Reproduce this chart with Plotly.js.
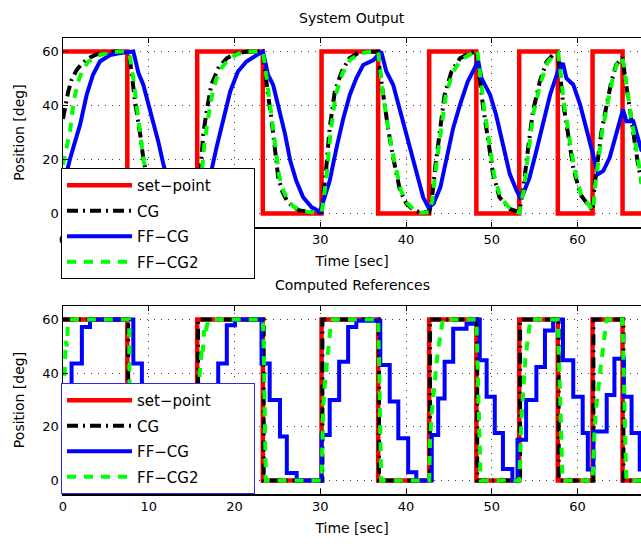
<!DOCTYPE html>
<html><head><meta charset="utf-8">
<script src="https://cdn.plot.ly/plotly-3.0.1.min.js"></script>
<style>html,body{margin:0;padding:0;overflow:hidden;background:#fff}#chart{width:641px;height:544px}</style>
</head><body><div id="chart"></div>
<script>
// ---------- data (time in sec, position in deg) ----------
const setTime  = [0, 7.5, 15.65, 23.3, 30.15, 36.75, 42.7, 48.2, 53.2, 57.7, 61.75, 65.25, 68];
const setValue = [60, 0, 60, 0, 60, 0, 60, 0, 60, 0, 60, 0, 0];

// System Output
const outCgTime = [0,0.3,0.6,1.0,1.6,2.2,2.95,3.9,5,6,7.5,7.8,8.0,8.4,9.0,9.4,9.9,10.5,11.2,12.2,13.5,15.65,15.9,16.1,16.35,16.75,17.3,18.1,19.1,20.2,21.5,23.3,23.5,23.9,24.3,24.7,25.1,25.6,26.1,26.8,27.6,28.5,29.5,30.15,30.3,30.7,31.1,31.7,32.5,33.4,34.6,36.75,36.9,37.3,37.9,38.5,39.3,40.05,40.8,41.6,42.7,43,43.4,44,44.5,45.3,46.3,47.4,48.2,48.6,49,49.6,50.15,50.9,52.1,53.2,53.65,54.2,54.8,55.6,56.4,57.1,57.7,57.9,58.3,58.9,59.5,60.3,61.4,61.75,62,62.4,62.8,63.4,63.95,64.5,65.1,65.25,65.5,65.9,66.5,67.05,67.5];
const outCgValue = [35,40,45,49.5,53.2,55.5,57.5,58.9,59.6,60,60,57,52,41.5,29.3,19.5,12,6.5,3,1,0.3,0,10,20,29.3,37.9,47.7,53.8,57.5,59.3,60,60,53.8,44,35.4,24.4,13.3,8,4.8,2.5,1.1,0.8,0.3,0.5,4.8,17,31.7,45.2,52.6,57.5,59.7,60,53.8,44,31.7,20.7,8.5,3.6,1.5,0.5,0.5,4.8,17,31.7,44,52.6,57.5,59.3,60,50.2,39,26.8,14.6,6,1.7,0.5,8.5,23.2,37.9,48.9,56.3,58.7,59.5,53.8,41.5,29.3,17,7.2,2.3,1,10.9,20.7,30.5,40.3,48.9,55,57.5,57.8,51.4,42.8,30.5,18.3,11];

const outFfTime = [0,0.43,0.8,1.2,2.0,2.76,3.5,4.3,5.5,6.5,7.5,8.2,8.5,8.8,9.36,9.9,10.5,11.1,11.7,12.3,12.9,13.6,14.4,15.65,16.2,16.7,17.3,17.9,18.7,19.5,20.4,21.4,22.6,23.3,23.6,23.9,24.5,25.3,25.9,26.5,27.2,28,29,29.5,29.95,30.5,31.1,31.9,32.7,33.45,34.2,35,36.2,37.1,37.4,37.7,38.5,39.1,39.9,40.6,41.2,42,42.6,43.2,44,44.7,45.5,46.3,47.2,48,48.4,48.8,49.8,50.5,51.3,52.1,52.9,53.3,53.65,54.4,55.2,56,56.8,57.7,58.3,58.7,59.5,60.3,61,61.8,62.4,63,63.75,64.5,65.3,65.7,66.5,67.25,67.5];
const outFfValue = [10,15.8,20,24.4,33,44,51.4,56.3,58.7,59.3,59.8,60,56,52,47.7,41.5,34.2,26.8,18.3,11,6,2.8,1,0.5,4,9.5,15.8,24.4,35.4,45.2,52.6,56.3,58.7,60,56,51.4,47.7,37.9,29.3,19.5,12.1,6,2.3,1.5,0.5,6,12.1,24.4,35.4,44,50.1,55,56.8,60,56,52.6,47.7,40.3,31.7,23.2,14.6,6,2.3,3.6,9.7,19.5,31.7,40.3,48.9,53.8,56.8,50.1,44,36.6,25.6,14.6,8.5,6,7.2,13.3,23.2,33,44,52.6,55.7,50.1,47.7,40.3,31.7,23.2,14.6,15.8,20.7,29.3,38.5,34.2,34.2,25.6,23];

const outFf2Time = [0,0.4,0.82,1.1,1.4,1.8,2.2,2.95,3.6,4.3,5.3,6.5,7.5,7.8,8.2,8.6,9.0,9.4,9.9,10.5,11.2,12.2,13.5,15.65,15.9,16.2,16.5,16.9,17.4,17.9,18.5,19.3,20.3,21.5,23.3,23.55,23.95,24.35,24.8,25.2,25.7,26.2,26.9,27.6,28.5,29.5,30.15,30.35,30.8,31.2,31.8,32.6,33.5,34.7,36.75,36.95,37.35,37.95,38.6,39.4,40.1,40.9,41.7,42.7,43.05,43.45,44.05,44.6,45.4,46.4,47.5,48.3,48.7,49.1,49.7,50.25,51,52.2,53.2,53.7,54.25,54.85,55.7,56.5,57.2,57.75,58,58.4,59,59.6,60.4,61.5,61.8,62.05,62.45,62.85,63.45,64,64.55,65.15,65.4,65.6,66,66.6,67.1,67.5];
const outFf2Value = [18,24,30.5,38,44,49,52.6,56.3,57.5,58.7,59.5,60,60,58,50,39,29.3,19.5,12.5,7,3.5,1.2,0.3,0,6,16,26,35,44,50,54,57,59,60,60,55,45,36,24,14,8.5,5,2.5,1.3,0.6,0.3,0.5,4,16,30,44,52,57,59.5,60,53,43,31,20,8.5,4,1.5,0.3,0.5,4.5,16,30,43,52,57,59,60.5,50,39,26.5,14.5,6,1.5,0.3,8,22,37,48.5,56,58.5,59.5,53,41,29,17,7,2,1,10,20.5,30,40,48.5,55,57.8,55,50,41,29,17.5,11];

// Computed References
const refCgTime  = [0, 7.6, 15.75, 23.4, 30.25, 36.85, 42.8, 48.3, 53.3, 57.8, 61.85, 65.35, 68];
const refCgValue = [60, 0, 60, 0, 60, 0, 60, 0, 60, 0, 60, 0, 0];

const refFfTime  = [0,1.0,2.2,3.15,8.2,9.2,10.2,11.2,12.2,16.1,17.1,18.1,19.1,20.05,23.15,24.1,25.3,26.1,27.25,30.15,31.1,32.2,33.25,34.2,37.0,38.1,39.1,40.25,41.2,43.0,43.75,44.5,45.5,47.05,47.8,48.6,49.4,50.35,51.3,52.4,53.0,54.0,55.2,56.2,57.15,58.3,59.5,60.6,61.2,61.85,63.4,64.3,65.4,66.3,67.25,68];
const refFfValue = [30,43.6,57.2,60,43.6,30,16.4,3,0,17,30,43.6,57.8,60,43.6,30,16.4,2.8,0,17,30,44.2,57.2,59.5,43,29.4,15.8,3.1,0,17,30.6,44.2,56.5,58.4,60,44.8,31.2,17.7,4.3,0,15.2,30,42.3,55.9,60,44.8,31.2,17.7,4.1,18.3,31.9,45.4,31.2,17.7,4.1,4.1];

const refFf2Time  = [0,0.1,0.25,0.3,0.45,0.55,0.75,7.5,7.7,7.75,7.85,7.9,15.7,15.75,15.9,16.0,16.2,16.3,16.45,16.6,16.8,17.1,23.3,23.4,23.5,23.55,23.65,30.15,30.2,30.35,30.5,30.65,30.75,30.9,31.05,31.2,31.45,36.75,36.85,37.0,37.1,42.7,42.8,43.0,43.2,43.4,43.6,43.8,44.0,44.3,48.2,48.35,48.5,48.6,48.7,53.2,53.3,53.45,53.6,53.75,53.9,54.1,54.3,54.5,57.7,57.85,58.0,58.15,58.25,61.75,61.85,62.0,62.2,62.4,62.6,62.8,63.0,63.2,63.4,65.25,65.4,65.5,65.6,65.7,68];
const refFf2Value = [20,38,45,52,50,57,60,60,60,40,20,0,0,25,38,44,50,48,56,54,58,60,60,50,30,15,0,0,15,28,35,40,45,50,52,57,60,60,45,25,0,0,15,25,33,38,45,50,55,60,60,45,25,10,0,0,12,22,30,38,45,50,55,60,60,45,25,10,0,0,10,20,28,35,40,45,50,55,60,60,45,25,10,0,0];

const seriesNames = ['set\u2212point', 'CG', 'FF\u2212CG', 'FF\u2212CG2'];
const xTicks = [0, 10, 20, 30, 40, 50, 60];
const yTicks = [0, 20, 40, 60];

// ---------- styling ----------
const FONT = 'DejaVu Sans';
const legendPad = '\u00a0'.repeat(8);
const styles = [
  {color: '#ff0000', width: 4.5, dash: 'solid'},
  {color: '#000000', width: 4, dash: '11px,5px,2px,5px'},
  {color: '#0000ff', width: 4, dash: 'solid'},
  {color: '#00ff00', width: 4, dash: '9px,8px'}
];

function mk(x, y, i, xa, ya, leg, shape) {
  return {
    x: x, y: y, type: 'scatter', mode: 'lines',
    name: seriesNames[i] + (i === 0 ? legendPad : ''), xaxis: xa, yaxis: ya,
    legend: leg, legendgroup: leg + i,
    line: {color: styles[i].color, width: styles[i].width, dash: styles[i].dash, shape: shape || 'linear'},
    hoverinfo: 'skip'
  };
}

const traces = [
  mk(setTime, setValue, 0, 'x', 'y', 'legend', 'hv'),
  mk(outCgTime, outCgValue, 1, 'x', 'y', 'legend'),
  mk(outFfTime, outFfValue, 2, 'x', 'y', 'legend'),
  mk(outFf2Time, outFf2Value, 3, 'x', 'y', 'legend'),
  mk(setTime, setValue, 0, 'x2', 'y2', 'legend2', 'hv'),
  mk(refCgTime, refCgValue, 1, 'x2', 'y2', 'legend2', 'hv'),
  mk(refFfTime, refFfValue, 2, 'x2', 'y2', 'legend2', 'hv'),
  mk(refFf2Time, refFf2Value, 3, 'x2', 'y2', 'legend2')
];

function xax(anchor) {
  return {
    anchor: anchor, domain: [63/641, 1], range: [0, 67.4],
    tickvals: xTicks, ticks: 'inside', ticklen: 5, tickcolor: '#000', tickwidth: 1,
    showline: true, linecolor: '#000', linewidth: 1.5, mirror: 'ticks',
    showgrid: true, gridcolor: '#444', gridwidth: 1, griddash: '1px,6px',
    zeroline: false, tickfont: {family: FONT, size: 13, color: '#000'},
    title: {text: 'Time [sec]', font: {family: FONT, size: 14, color: '#000'}, standoff: 10}
  };
}
function yax(anchor, dom) {
  return {
    anchor: anchor, domain: dom, range: [-5, 65],
    tickvals: yTicks, ticks: 'inside', ticklen: 5, tickcolor: '#000', tickwidth: 1,
    showline: true, linecolor: '#000', linewidth: 1.5, mirror: false,
    showgrid: true, gridcolor: '#444', gridwidth: 1, griddash: '1px,6px',
    zeroline: false, tickfont: {family: FONT, size: 13, color: '#000'},
    title: {text: 'Position [deg]', font: {family: FONT, size: 14, color: '#000'}, standoff: 14}
  };
}

const legStyle = (y, border) => ({
  x: 61/641, y: y, xanchor: 'left', yanchor: 'top',
  bgcolor: '#ffffff', bordercolor: border, borderwidth: 1,
  font: {family: FONT, size: 15, color: '#000'},
  itemwidth: 65, tracegroupgap: 3, itemclick: false, itemdoubleclick: false
});

const layout = {
  width: 641, height: 544,
  margin: {l: 0, r: 0, t: 0, b: 0},
  paper_bgcolor: '#fff', plot_bgcolor: '#fff',
  showlegend: true,
  xaxis: xax('y'),
  yaxis: yax('x', [1 - 227/544, 1 - 38/544]),
  xaxis2: xax('y2'),
  yaxis2: yax('x2', [1 - 494/544, 1 - 306/544]),
  legend: legStyle(1 - 168/544, '#000000'),
  legend2: legStyle(1 - 383/544, '#2a2af0'),
  annotations: [
    {text: 'System Output', xref: 'paper', yref: 'paper', x: 352/641, y: 1 - 18/544, showarrow: false,
     xanchor: 'center', yanchor: 'middle', font: {family: FONT, size: 14, color: '#000'}},
    {text: 'Computed References', xref: 'paper', yref: 'paper', x: 352/641, y: 1 - 285/544, showarrow: false,
     xanchor: 'center', yanchor: 'middle', font: {family: FONT, size: 14, color: '#000'}}
  ]
};

Plotly.newPlot('chart', traces, layout, {staticPlot: true, displayModeBar: false});
</script>
</body></html>
